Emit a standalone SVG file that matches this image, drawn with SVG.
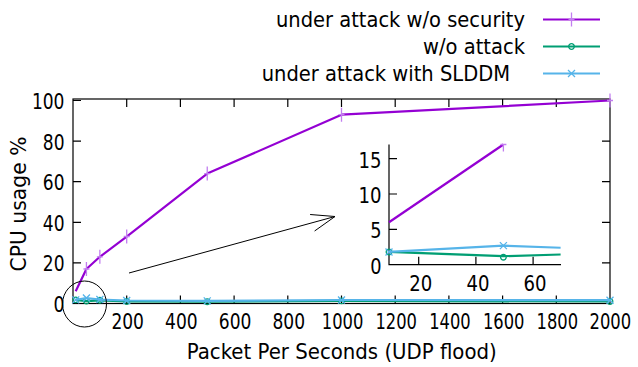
<svg xmlns="http://www.w3.org/2000/svg" width="638" height="367" viewBox="0 0 638 367">
<defs>
<style>
text{font-family:"DejaVu Sans","Liberation Sans",sans-serif;font-size:20.5px;fill:#000}
.ax{fill:none;stroke:#000;stroke-width:1.2}
.tk{stroke:#000;stroke-width:1.2}
.pu{fill:none;stroke:#9400d3;stroke-width:2.2;stroke-linejoin:round}
.gr{fill:none;stroke:#009e73;stroke-width:2.2;stroke-linejoin:round}
.bl{fill:none;stroke:#56b4e9;stroke-width:2.2;stroke-linejoin:round}
.mp{fill:none;stroke:#c27ef0;stroke-width:1.3}
.mg{fill:none;stroke:#009e73;stroke-width:1.3}
.mb{fill:none;stroke:#56b4e9;stroke-width:1.3}
.an{fill:none;stroke:#000;stroke-width:1}
</style>
<g id="plus"><path d="M-3,0H3M0,-7V7"/></g>
<g id="circ"><circle r="2.8"/></g>
<g id="cross"><path d="M-3.5,-3.5L3.5,3.5M-3.5,3.5L3.5,-3.5"/></g>
</defs>
<rect width="638" height="367" fill="#fff"/>

<g id="main-axes">
<rect class="ax" x="73" y="99" width="537" height="204.5"/>
<path class="tk" d="M73,262.9h8M73,222.3h8M73,181.7h8M73,141.1h8M73,100.5h8
M610,262.9h-8M610,222.3h-8M610,181.7h-8M610,141.1h-8M610,100.5h-8
M126.7,303.5v-8M180.4,303.5v-8M234.1,303.5v-8M287.8,303.5v-8M341.5,303.5v-8M395.2,303.5v-8M448.9,303.5v-8M502.6,303.5v-8M556.3,303.5v-8
M126.7,99v8M180.4,99v8M234.1,99v8M287.8,99v8M341.5,99v8M395.2,99v8M448.9,99v8M502.6,99v8M556.3,99v8"/>
<text x="53.5" y="312" textLength="11" lengthAdjust="spacingAndGlyphs">0</text>
<text x="42.8" y="271.4" textLength="21.7" lengthAdjust="spacingAndGlyphs">20</text>
<text x="42.8" y="230.8" textLength="21.7" lengthAdjust="spacingAndGlyphs">40</text>
<text x="42.8" y="190.2" textLength="21.7" lengthAdjust="spacingAndGlyphs">60</text>
<text x="42.8" y="149.6" textLength="21.7" lengthAdjust="spacingAndGlyphs">80</text>
<text x="31.9" y="109" textLength="32.6" lengthAdjust="spacingAndGlyphs">100</text>
<text x="111.4" y="329" textLength="32.6" lengthAdjust="spacingAndGlyphs">200</text>
<text x="165.1" y="329" textLength="32.6" lengthAdjust="spacingAndGlyphs">400</text>
<text x="218.8" y="329" textLength="32.6" lengthAdjust="spacingAndGlyphs">600</text>
<text x="272.5" y="329" textLength="32.6" lengthAdjust="spacingAndGlyphs">800</text>
<text x="321.8" y="329" textLength="41.5" lengthAdjust="spacingAndGlyphs">1000</text>
<text x="375.5" y="329" textLength="41.5" lengthAdjust="spacingAndGlyphs">1200</text>
<text x="429.2" y="329" textLength="41.5" lengthAdjust="spacingAndGlyphs">1400</text>
<text x="482.9" y="329" textLength="41.5" lengthAdjust="spacingAndGlyphs">1600</text>
<text x="536.6" y="329" textLength="41.5" lengthAdjust="spacingAndGlyphs">1800</text>
<text transform="translate(610.3,329) scale(0.8,1)" text-anchor="middle">2000</text>
<text x="186.7" y="359" textLength="310" lengthAdjust="spacingAndGlyphs">Packet Per Seconds (UDP flood)</text>
<text transform="translate(25.5,271.5) rotate(-90)" textLength="135" lengthAdjust="spacingAndGlyphs">CPU usage %</text>
</g>

<g id="inset-axes">
<path class="ax" d="M389,144.5V264.7H561"/>
<path class="tk" d="M389,229.35h8M389,194h8M389,158.65h8M418.7,264.7v-8M475.9,264.7v-8M533.1,264.7v-8"/>
<text x="370.2" y="273.5" textLength="11.3" lengthAdjust="spacingAndGlyphs">0</text>
<text x="370.2" y="238.3" textLength="11.3" lengthAdjust="spacingAndGlyphs">5</text>
<text x="358.5" y="203" textLength="23" lengthAdjust="spacingAndGlyphs">10</text>
<text x="358.5" y="167.5" textLength="23" lengthAdjust="spacingAndGlyphs">15</text>
<text x="409.2" y="290.5" textLength="23" lengthAdjust="spacingAndGlyphs">20</text>
<text x="466.4" y="290.5" textLength="23" lengthAdjust="spacingAndGlyphs">40</text>
<text x="523.6" y="290.5" textLength="23" lengthAdjust="spacingAndGlyphs">60</text>
</g>

<g id="series-security">
<polyline class="pu" points="75.69,291.32 86.43,269 99.85,256.81 126.7,236.51 207.25,173.58 341.5,114.71 610,100.5"/>
<g class="mp">
<use href="#plus" x="86.43" y="269"/><use href="#plus" x="99.85" y="256.81"/><use href="#plus" x="126.7" y="236.51"/><use href="#plus" x="207.25" y="173.58"/><use href="#plus" x="341.5" y="114.71"/><use href="#plus" x="610" y="100.5"/>
</g>
<polyline class="pu" points="389,222.28 503.4,144.51"/>
<path class="mp" d="M503.4,144.5v7M500.4,144.5h6"/>
</g>

<g id="series-noattack">
<polyline class="gr" points="75.69,299.85 86.43,301.06 99.85,300.3 126.7,301.5 207.25,301.7 341.5,300.9 610,301.5"/>
<g class="mg">
<use href="#circ" x="75.69" y="299.85"/><use href="#circ" x="86.43" y="301.06"/><use href="#circ" x="99.85" y="300.3"/><use href="#circ" x="126.7" y="301.5"/><use href="#circ" x="207.25" y="301.7"/><use href="#circ" x="341.5" y="300.9"/><use href="#circ" x="610" y="301.5"/>
</g>
<polyline class="gr" points="389,251.97 503.4,256.22 560.6,254.52"/>
<g class="mg"><use href="#circ" x="389" y="251.97"/><use href="#circ" x="503.4" y="257.2"/></g>
</g>

<g id="series-slddm">
<polyline class="bl" points="75.69,299.85 86.43,298.02 99.85,299.54 126.7,300.5 207.25,300.9 341.5,300 610,300.2"/>
<g class="mb">
<use href="#cross" x="75.69" y="299.85"/><use href="#cross" x="86.43" y="298.02"/><use href="#cross" x="99.85" y="299.54"/><use href="#cross" x="126.7" y="300.5"/><use href="#cross" x="207.25" y="300.9"/><use href="#cross" x="341.5" y="300"/><use href="#cross" x="610" y="300.2"/>
</g>
<polyline class="bl" points="389,251.97 503.4,245.61 560.6,247.73"/>
<g class="mb"><use href="#cross" x="389" y="251.97"/><use href="#cross" x="503.4" y="245.61"/></g>
</g>

<g id="annotations">
<ellipse class="an" cx="84.5" cy="304" rx="22" ry="23"/>
<path class="an" d="M129,273L335,216.5M310.1,214.5L335,216.5L314.6,231"/>
</g>

<g id="legend">
<text x="276" y="26.5" textLength="249" lengthAdjust="spacingAndGlyphs">under attack w/o security</text>
<line class="pu" x1="543" y1="19.5" x2="600" y2="19.5"/>
<use class="mp" href="#plus" x="571.5" y="19.5"/>
<text x="423" y="53.5" textLength="102" lengthAdjust="spacingAndGlyphs">w/o attack</text>
<line class="gr" x1="543" y1="46.5" x2="600" y2="46.5"/>
<use class="mg" href="#circ" x="571.5" y="46.5"/>
<text x="261.7" y="80.5" textLength="248.3" lengthAdjust="spacingAndGlyphs">under attack with SLDDM</text>
<line class="bl" x1="543" y1="73.5" x2="600" y2="73.5"/>
<use class="mb" href="#cross" x="571.5" y="73.5"/>
</g>
</svg>
